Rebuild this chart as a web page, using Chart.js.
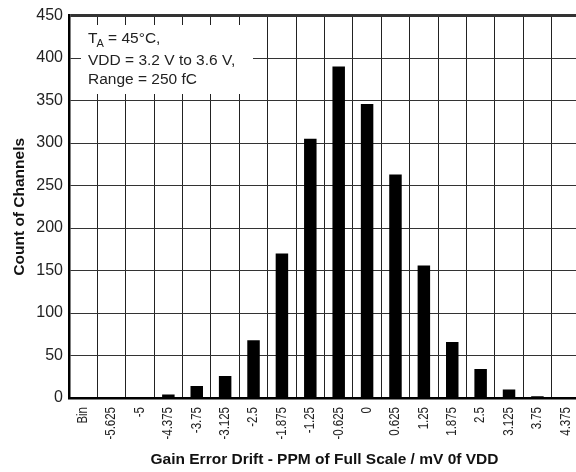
<!DOCTYPE html>
<html>
<head>
<meta charset="utf-8">
<script src="https://cdn.jsdelivr.net/npm/chart.js@4"></script>
<style>
html,body{margin:0;padding:0;background:#fff;overflow:hidden;width:576px;height:472px;}
#wrap{width:590px;height:472px;}
</style>
</head>
<body>
<div id="wrap"><canvas id="c" width="590" height="472"></canvas></div>
<script>
const categories = ["Bin","-5.625","-5","-4.375","-3.75","-3.125","-2.5","-1.875","-1.25","-0.625","0","0.625","1.25","1.875","2.5","3.125","3.75","4.375"];
const counts = [1,0,1,4,14,26,68,170,305,390,346,263,156,66,34,10,2,0];
const yTicks = [0,50,100,150,200,250,300,350,400,450];
const noteLines = ["VDD = 3.2 V to 3.6 V,","Range = 250 fC"];

const FONT = '"Liberation Sans", Arial, sans-serif';

const notePlugin = {
  id:'note',
  afterDraw(chart){
    const ctx = chart.ctx;
    ctx.save();
    // condensed x tick labels, placed by the category scale
    const xs = chart.scales.x;
    ctx.fillStyle = '#222';
    ctx.font = '14px ' + FONT;
    ctx.textAlign = 'right';
    ctx.textBaseline = 'middle';
    xs.ticks.forEach((t, i) => {
      const x = xs.getPixelForTick(i);
      ctx.save();
      ctx.translate(x, xs.top + 9);
      ctx.rotate(-Math.PI / 2);
      ctx.scale(0.82, 1);
      ctx.fillText(categories[i], 0, 0);
      ctx.restore();
    });
    // note box
    ctx.fillStyle = '#fff';
    ctx.fillRect(81, 25, 172, 69);
    ctx.fillStyle = '#222';
    ctx.textBaseline = 'alphabetic';
    ctx.textAlign = 'left';
    ctx.font = '15.5px ' + FONT;
    ctx.fillText('T', 88, 43);
    let w = ctx.measureText('T').width;
    ctx.font = '11px ' + FONT;
    ctx.fillText('A', 88 + w - 1, 47);
    let w2 = ctx.measureText('A').width;
    ctx.font = '15.5px ' + FONT;
    ctx.fillText(' = 45\u00B0C,', 88 + w - 1 + w2, 43);
    ctx.fillText(noteLines[0], 88, 65);
    ctx.fillText(noteLines[1], 88, 84);
    ctx.restore();
  }
};

new Chart(document.getElementById('c'), {
  type:'bar',
  data:{
    labels: categories,
    datasets:[{data: counts, backgroundColor:'#000', borderWidth:0, categoryPercentage:1, barPercentage:0.44}]
  },
  options:{
    responsive:false,
    animation:false,
    layout:{padding:{top:15,right:10,left:0,bottom:0}},
    plugins:{legend:{display:false},tooltip:{enabled:false}},
    scales:{
      x:{
        grid:{offset:true, color:'#222', lineWidth:1, drawTicks:false},
        border:{display:true, color:'#000', width:2.5},
        ticks:{display:false, autoSkip:false},
        title:{display:true, text:'Gain Error Drift - PPM of Full Scale / mV 0f VDD', color:'#111',
          font:{family:FONT, size:15.5, weight:'bold'}, padding:{top:0,bottom:3}},
        afterFit(s){ s.height = 74; }
      },
      y:{
        min:0, max:450,
        afterBuildTicks(s){ s.ticks = yTicks.map(v=>({value:v})); },
        grid:{color:'#333', lineWidth:(c)=> c.tick && c.tick.value===450 ? 3 : 1, drawTicks:false},
        border:{display:true, color:'#000', width:2.5},
        ticks:{padding:6, color:'#222', font:{family:FONT, size:16}},
        title:{display:true, text:'Count of Channels', color:'#111',
          font:{family:FONT, size:15.5, weight:'bold'}, padding:{top:10,bottom:0}},
        afterFit(s){ s.width = 69; }
      }
    }
  },
  plugins:[notePlugin]
});
</script>
</body>
</html>
